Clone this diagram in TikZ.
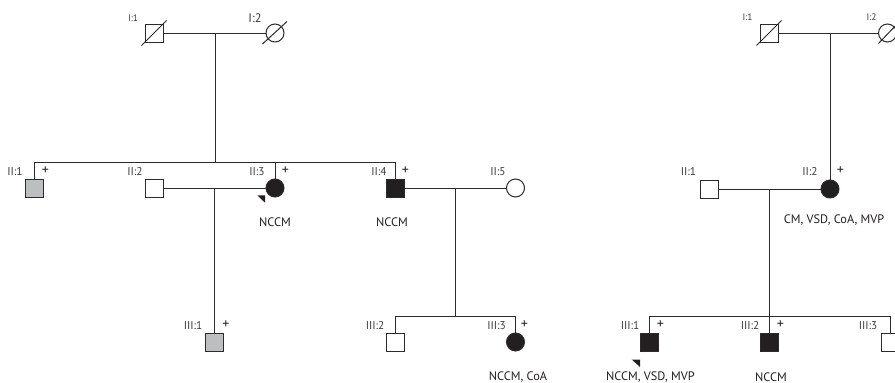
\documentclass[tikz,border=0pt]{standalone}
\usepackage{fontspec}
\setmainfont{PT Sans}
\usetikzlibrary{calc}
\definecolor{lc}{HTML}{2B2B2B}
\definecolor{gcol}{HTML}{BCBEC0}
\definecolor{acol}{HTML}{231F20}
\definecolor{labc}{HTML}{3A3A3A}
\newcommand{\idsmall}{\fontsize{9.4}{11}\selectfont}
\newcommand{\idfont}{\fontsize{11.3}{13}\selectfont}
\newcommand{\idbig}{\fontsize{12.4}{14}\selectfont}
\newcommand{\plusfont}{\fontsize{14}{15}\selectfont}
\newcommand{\dxfont}{\fontsize{12.3}{14}\selectfont}
\tikzset{
  male/.style={rectangle, draw=lc, line width=1pt, minimum size=18pt, inner sep=0pt, fill=white},
  female/.style={circle, draw=lc, line width=1pt, minimum size=18pt, inner sep=0pt, fill=white},
  aff/.style={fill=acol},
  carrier/.style={fill=gcol},
  lbl/.style={font=\idfont, text=labc, inner sep=0pt},
  pl/.style={font=\plusfont, text=acol, inner sep=0pt},
  dx/.style={font=\dxfont, text=acol, inner sep=0pt},
  rel/.style={draw=lc, line width=1pt},
  dead/.style={draw=lc, line width=1pt},
  proband/.style={fill=acol, draw=none},
}
\begin{document}
\begin{tikzpicture}[x=1pt, y=-1pt]
\useasboundingbox (0,0) rectangle (895,383);
\clip (0,0) rectangle (895,383);

% ---------------- left family ----------------
% generation I
\node[male] (LI1) at (154,33) {};
\node[female] (LI2) at (275,33) {};
\node[lbl, font=\idsmall] at (133,18) {I:1};
\node[lbl, font=\idbig] at (255,18) {I:2};
\draw[dead] ($(LI1.south west)+(-3,3)$) -- ($(LI1.north east)+(3,-3)$);
\draw[dead] ($(LI2.center)+(-12.5,11)$) -- ($(LI2.center)+(12,-11.5)$);
\draw[rel] (LI1.east) -- (LI2.west);
\coordinate (Lm1) at (215,33);
\coordinate (Ls1) at (215,162);
\draw[rel] (Lm1) -- (Ls1);

% generation II
\node[male, carrier] (LII1) at (34.5,188) {};
\node[male] (LII2) at (154.5,188) {};
\node[female, aff] (LII3) at (275,188) {};
\node[male, aff] (LII4) at (395,188) {};
\node[female] (LII5) at (515.5,188) {};
\draw[rel] (LII1.north) |- (LII4.north |- Ls1) -- (LII4.north);
\draw[rel] (LII3.north |- Ls1) -- (LII3.north);
\draw[rel] (LII2.east) -- (LII3.west);
\draw[rel] (LII4.east) -- (LII5.west);

\node[lbl] at (15,172) {II:1};
\node[lbl] at (135,172) {II:2};
\node[lbl] at (257,172) {II:3};
\node[lbl] at (379,172) {II:4};
\node[lbl] at (498,172) {II:5};
\node[pl] at (45.5,171) {+};
\node[pl] at (285.5,171) {+};
\node[pl] at (405.5,171) {+};

\fill[proband] (257.3,195.3) -- (265,195.3) -- (265,202.7) -- cycle;

\node[dx] at (275,222) {NCCM};
\node[dx] at (392,222) {NCCM};

% generation III
\node[male, carrier] (LIII1) at (214.5,342) {};
\node[male] (LIII2) at (395,342) {};
\node[female, aff] (LIII3) at (515.5,342) {};
\coordinate (Lm2) at (214.5,188);
\coordinate (Lm3) at (455.5,188);
\coordinate (Ls3) at (455.5,316);
\draw[rel] (Lm2) -- (LIII1.north);
\draw[rel] (Lm3) -- (Ls3);
\draw[rel] (LIII2.north) |- (LIII3.north |- Ls3) -- (LIII3.north);

\node[lbl] at (193,326) {III:1};
\node[lbl] at (375,326) {III:2};
\node[lbl] at (496.5,326) {III:3};
\node[pl] at (226,325) {+};
\node[pl] at (524.5,325) {+};

\node[dx] at (518,377) {NCCM, CoA};

% ---------------- right family ----------------
% generation I
\node[male] (RI1) at (769,33) {};
\node[female] (RI2) at (887.5,33) {};
\node[lbl, font=\idsmall] at (747.5,17) {I:1};
\node[lbl, font=\idsmall] at (871.5,17) {I:2};
\draw[dead] ($(RI1.south west)+(-3,3)$) -- ($(RI1.north east)+(3,-3)$);
\draw[dead] ($(RI2.center)+(-9,10.5)$) -- ($(RI2.center)+(12,-11.5)$);
\draw[rel] (RI1.east) -- (RI2.west);
\coordinate (Rm1) at (830,33);

% generation II
\node[male] (RII1) at (709.5,189) {};
\node[female, aff] (RII2) at (830,189) {};
\draw[rel] (Rm1) -- (RII2.north);
\draw[rel] (RII1.east) -- (RII2.west);
\node[lbl] at (688.5,172) {II:1};
\node[lbl] at (810,172) {II:2};
\node[pl] at (840.5,171) {+};
\node[dx] at (834,220) {CM, VSD, CoA, MVP};

% generation III
\node[male, aff] (RIII1) at (649,342) {};
\node[male, aff] (RIII2) at (769.5,342) {};
\node[male] (RIII3) at (890,342) {};
\coordinate (Rm2) at (769.5,189);
\draw[rel] (Rm2) -- (RIII2.north);
\draw[rel] (RIII1.north) |- (RIII3.north |- 0,316) -- (RIII3.north);

\node[lbl] at (630,326) {III:1};
\node[lbl] at (750,326) {III:2};
\node[lbl] at (868,326) {III:3};
\node[pl] at (660.5,325) {+};
\node[pl] at (780.5,325) {+};
\node[pl] at (900,325) {+};

\fill[proband] (631.7,359.5) -- (640,359.5) -- (640,367) -- cycle;

\node[dx] at (650.5,377) {NCCM, VSD, MVP};
\node[dx] at (771,377) {NCCM};
\end{tikzpicture}
\end{document}
